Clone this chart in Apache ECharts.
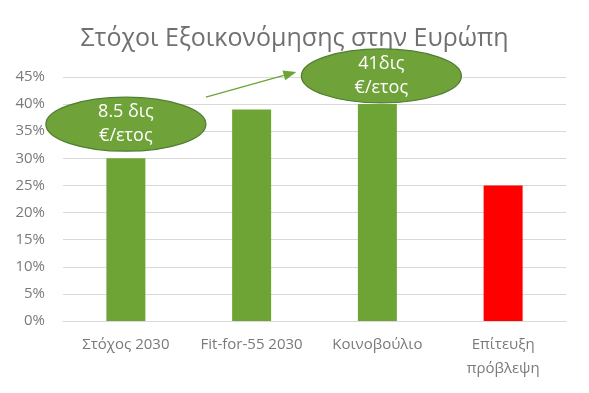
<!DOCTYPE html>
<html><head><meta charset="utf-8">
<script src="https://cdn.jsdelivr.net/npm/echarts@6/dist/echarts.min.js"></script>
<style>html,body{margin:0;padding:0;background:#fff}#c{width:589px;height:393px}</style>
</head><body><div id="c"></div>
<script>
const categories = ['Στόχος 2030', 'Fit-for-55 2030', 'Κοινοβούλιο', 'Επίτευξη\nπρόβλεψη'];
const values = [30, 39, 40, 25];
const barColors = ['#6ea435', '#6ea435', '#6ea435', '#ff0000'];
const yTicks = [0, 5, 10, 15, 20, 25, 30, 35, 40, 45];
const notes = [
  { text: '8.5 δις\n€/ετος', cat: 0, y: 36.3, dx: 0 },
  { text: '41δις\n€/ετος', cat: 2, y: 45.2, dx: 4 }
];
const FONT = 'Open Sans';
const chart = echarts.init(document.getElementById('c'));
chart.setOption({
  animation: false,
  title: { text: 'Στόχοι Εξοικονόμησης στην Ευρώπη', left: 'center', top: 21,
    textStyle: { fontFamily: FONT, fontSize: 25, fontWeight: 'normal', color: '#707070' } },
  grid: { left: 63, right: 23, top: 77, bottom: 72 },
  xAxis: { type: 'category', data: categories,
    axisLine: { lineStyle: { color: '#d9d9d9', width: 1 } }, axisTick: { show: false },
    axisLabel: { interval: 0, hideOverlap: false, fontFamily: FONT, fontSize: 15, color: '#7a7a7a', margin: 12, lineHeight: 24 } },
  yAxis: { type: 'value', min: 0, max: 45, interval: 5,
    axisLine: { show: false }, axisTick: { show: false },
    splitLine: { lineStyle: { color: '#d9d9d9' } },
    axisLabel: { fontFamily: FONT, fontSize: 15, color: '#7a7a7a', margin: 18, formatter: v => v + '%' } },
  series: [{ type: 'bar', barWidth: 39,
    data: values.map((v, i) => ({ value: v, itemStyle: { color: barColors[i] } })) }]
});
const els = [];
const pts = notes.map(n => {
  const p = chart.convertToPixel({ gridIndex: 0 }, [n.cat, n.y]);
  return [p[0] + n.dx, p[1]];
});
// arrow
const a0 = [pts[0][0] + 80, pts[0][1] - 27];
const a1 = [pts[1][0] - 85, pts[1][1] - 4];
const ang = Math.atan2(a1[1] - a0[1], a1[0] - a0[0]);
const hl = 13, hw = 5;
const base = [a1[0] - hl * Math.cos(ang), a1[1] - hl * Math.sin(ang)];
els.push({ type: 'line', shape: { x1: a0[0], y1: a0[1], x2: base[0], y2: base[1] }, style: { stroke: '#6ea435', lineWidth: 1.3 } });
els.push({ type: 'polygon', shape: { points: [a1,
  [base[0] + hw * Math.sin(ang), base[1] - hw * Math.cos(ang)],
  [base[0] - hw * Math.sin(ang), base[1] + hw * Math.cos(ang)]] }, style: { fill: '#6ea435' } });
notes.forEach((n, i) => {
  els.push({ type: 'ellipse', shape: { cx: pts[i][0], cy: pts[i][1], rx: 80, ry: 27 },
    style: { fill: '#6fa33a', stroke: '#507e32', lineWidth: 1.3 }, z: 10 });
  els.push({ type: 'text', x: pts[i][0], y: pts[i][1], z: 11,
    style: { text: n.text, fill: '#fff', fontFamily: FONT, fontSize: 18, lineHeight: 24,
      align: 'center', verticalAlign: 'middle' } });
});
chart.setOption({ graphic: els });
</script></body></html>
